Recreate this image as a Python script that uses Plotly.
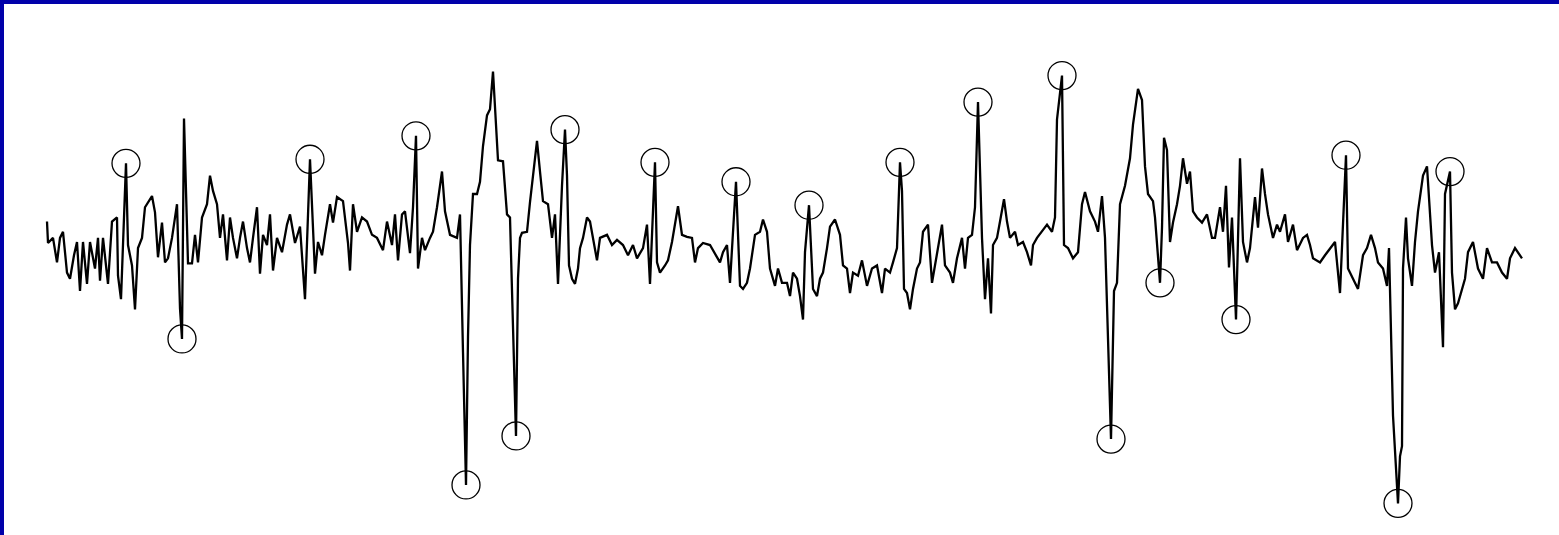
import plotly.graph_objects as go

# Signal trace: sample times and amplitudes
sig_t = [
    47, 48, 53, 57, 60, 63, 67, 70, 74, 77, 80, 83, 87, 90, 95, 98, 100, 103, 108, 112,
    117, 118, 121, 126, 128, 132, 135, 138, 142, 145, 152, 155, 158, 162, 165, 168, 172, 177, 180, 182,
    184, 186, 188, 192, 195, 198, 202, 207, 210, 213, 217, 220, 223, 227, 230, 233, 237, 240, 243, 247,
    250, 253, 257, 260, 263, 267, 270, 273, 277, 282, 287, 290, 295, 300, 305, 310, 312, 315, 318, 322,
    325, 330, 333, 337, 343, 348, 350, 353, 357, 362, 367, 372, 377, 383, 387, 392, 395, 398,
    402, 405, 410, 413, 416, 418, 422, 425, 430, 433, 437, 440, 442, 445, 450, 457, 460, 463, 466, 468,
    470, 473, 477, 480, 483, 487, 490, 493, 495, 498, 503, 505, 507, 510, 516, 518, 520, 522, 527, 530,
    533, 537, 540, 543, 548, 552, 555, 558, 562, 565, 567, 569, 572, 575, 578, 580, 583, 587, 590, 593,
    597, 600, 607, 612, 617, 623, 628, 633, 637, 643, 647, 650, 655, 657, 660, 665, 668, 672, 675, 678,
    682, 687, 692, 695, 698, 703, 710, 715, 720, 723, 727, 730, 736, 740, 743, 747, 750, 755, 760, 763,
    767, 770, 775, 778, 782, 787, 790, 793, 797,
    800, 803, 805, 809, 813, 817, 820, 823, 827, 830, 835, 840, 843, 847, 850, 853, 858, 862, 867, 872,
    877, 882, 885, 890, 893, 897, 900, 902, 904, 907, 910, 913, 917, 920, 923, 928, 932, 937, 942, 945,
    950, 953, 957, 962, 965, 968, 972, 975, 978, 982, 985, 988, 991, 993, 997, 1000, 1004, 1007, 1010, 1015,
    1018, 1023, 1027, 1031, 1033, 1037, 1042, 1047, 1052, 1055, 1057, 1062, 1064, 1068, 1073, 1078, 1082, 1085, 1090, 1095,
    1098, 1102, 1105, 1111, 1114, 1117, 1120, 1125, 1130, 1133, 1138, 1142, 1145, 1148, 1153, 1155, 1160, 1162, 1164, 1167,
    1170, 1173, 1177, 1180, 1183, 1187, 1190, 1193, 1197,
    1202, 1207, 1212, 1215, 1220, 1223, 1226, 1229, 1232, 1236, 1240, 1243, 1247, 1250, 1255, 1258, 1262, 1265, 1268, 1273,
    1277, 1280, 1285, 1288, 1293, 1297, 1303, 1307, 1310, 1313, 1320, 1325, 1330, 1335, 1340, 1346, 1348, 1353, 1358, 1363,
    1367, 1371, 1375, 1378, 1383, 1387, 1389, 1393, 1398, 1400, 1402, 1403, 1406, 1408, 1412, 1415, 1418, 1423, 1427, 1432,
    1435, 1439, 1443, 1445, 1450, 1452, 1455, 1458, 1462, 1465, 1468, 1473, 1478, 1483, 1487, 1492, 1497, 1502, 1507, 1510,
    1515, 1522,
]

sig_v = [
    33, 12, 17, -7, 17, 23, -17, -23, 0, 13, -35, 13, -28, 13, -13, 17, -25, 17, -28, 33,
    37, -20, -43, 90, 10, -10, -53, 7, 17, 47, 58, 42, -2, 32, -7, -3, 17, 50, -52, -82,
    134, 50, -8, -8, 20, -7, 37, 50, 78, 63, 50, 17, 40, -5, 37, 17, -3, 17, 33, 7,
    -7, 17, 47, -18, 20, 10, 40, -15, 17, 3, 30, 40, 12, 28, -43, 94, 43, -18, 13, 0,
    20, 50, 32, 57, 53, 12, -15, 50, 23, 37, 33, 20, 17, 5, 33, 10, 40, -5,
    40, 43, 2, 47, 117, -13, 17, 5, 17, 23, 47, 68, 82, 43, 20, 17, 40, -95, -225, -80,
    10, 60, 60, 72, 107, 137, 143, 180, 143, 93, 92, 67, 40, 37, -177, -23, 17, 22, 23, 52,
    80, 112, 82, 53, 50, 17, 40, -28, 68, 123, 78, -10, -23, -28, -13, 7, 17, 37, 33, 17,
    -5, 17, 20, 10, 15, 10, 0, 10, -3, 7, 30, -28, 91, -7, -17, -10, -5, 13, 32, 48,
    20, 18, 17, -7, 7, 12, 10, 2, -7, 3, 10, -27, 72, -30, -33, -27, -13, 20, 23, 35,
    23, -13, -30, -13, -27, -27, -40, -17, -23,
    -40, -63, 3, 49, -33, -40, -23, -17, 7, 28, 35, 20, -10, -13, -37, -17, -20, -5, -30, -13,
    -10, -37, -13, -17, -7, 7, 91, 63, -33, -37, -53, -33, -13, -7, 23, 30, -27, 3, 30, -10,
    -17, -27, -3, 17, -13, 17, 20, 47, 150, 17, -43, -3, -57, 10, 17, 33, 55, 33, 17, 23,
    10, 13, 3, -10, 10, 17, 23, 30, 23, 37, 133, 176, 10, 7, -3, 3, 50, 62, 43, 33,
    23, 58, 17, -180, -35, -27, 50, 68, 95, 128, 163, 152, 87, 60, 53, 37, -27, 27, 115, 103,
    13, 32, 50, 68, 95, 70, 82, 43, 37,
    32, 40, 17, 17, 47, 23, 68, -12, 37, -63, 95, 13, -7, 7, 57, 27, 85, 60, 40, 17,
    30, 23, 40, 13, 30, 5, 17, 20, 10, -3, -7, 0, 7, 13, -37, 98, -13, -23, -33, 0,
    7, 20, 7, -7, -13, -30, 7, -157, -243, -197, -187, -13, 37, -3, -30, 13, 43, 78, 87, 10,
    -17, 3, -90, 60, 82, -17, -53, -47, -33, -23, 3, 13, -13, -23, 7, -7, -7, -17, -23, -3,
    7, -3,
]

# Times of the detected extrema (circled)
peak_t = [126, 182, 310, 416, 466, 516, 565, 655, 736, 809,
          900, 978, 1062, 1111, 1160, 1236, 1346, 1398, 1450]
peak_v = [sig_v[sig_t.index(t)] for t in peak_t]

fig = go.Figure()

fig.add_trace(go.Scatter(
    x=sig_t, y=sig_v, mode="lines",
    line=dict(color="black", width=2.3),
    hoverinfo="skip", showlegend=False,
))

fig.add_trace(go.Scatter(
    x=peak_t, y=peak_v, mode="markers",
    marker=dict(symbol="circle-open", size=28, color="black",
                line=dict(color="black", width=1.3)),
    showlegend=False,
))

border = "#0000AA"
fig.update_layout(
    width=1559, height=535,
    margin=dict(l=0, r=0, t=0, b=0),
    paper_bgcolor="white", plot_bgcolor="white",
    xaxis=dict(range=[0, 1559], visible=False, fixedrange=True),
    yaxis=dict(range=[-274, 250], visible=False, fixedrange=True),
    shapes=[
        dict(type="rect", xref="paper", yref="paper",
             x0=0, x1=1, y0=1 - 4 / 535, y1=1,
             fillcolor=border, line=dict(width=0), layer="above"),
        dict(type="rect", xref="paper", yref="paper",
             x0=0, x1=4 / 1559, y0=0, y1=1,
             fillcolor=border, line=dict(width=0), layer="above"),
    ],
)

fig.write_html("out.html", config={"displayModeBar": False})
